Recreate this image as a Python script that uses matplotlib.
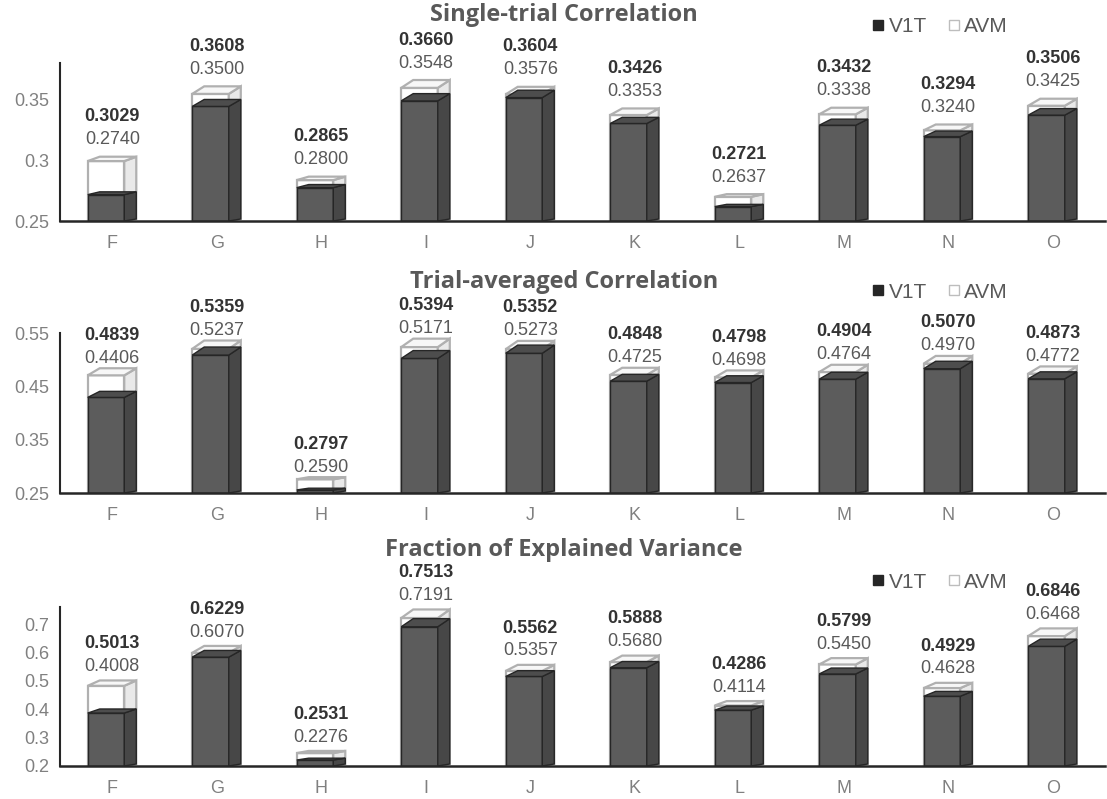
import numpy as np
import matplotlib
matplotlib.use("Agg")
import matplotlib.pyplot as plt
from matplotlib.patches import Polygon
from matplotlib.lines import Line2D

categories = ["F", "G", "H", "I", "J", "K", "L", "M", "N", "O"]

# Single-trial Correlation
single_avm = [0.3029, 0.3608, 0.2865, 0.3660, 0.3604, 0.3426, 0.2721, 0.3432, 0.3294, 0.3506]
single_v1t = [0.2740, 0.3500, 0.2800, 0.3548, 0.3576, 0.3353, 0.2637, 0.3338, 0.3240, 0.3425]

# Trial-averaged Correlation
avg_avm = [0.4839, 0.5359, 0.2797, 0.5394, 0.5352, 0.4848, 0.4798, 0.4904, 0.5070, 0.4873]
avg_v1t = [0.4406, 0.5237, 0.2590, 0.5171, 0.5273, 0.4725, 0.4698, 0.4764, 0.4970, 0.4772]

# Fraction of Explained Variance
fev_avm = [0.5013, 0.6229, 0.2531, 0.7513, 0.5562, 0.5888, 0.4286, 0.5799, 0.4929, 0.6846]
fev_v1t = [0.4008, 0.6070, 0.2276, 0.7191, 0.5357, 0.5680, 0.4114, 0.5450, 0.4628, 0.6468]

titles = ["Single-trial Correlation", "Trial-averaged Correlation", "Fraction of Explained Variance"]
ylims = [(0.25, 0.38), (0.25, 0.55), (0.2, 0.76)]
yticks = [[0.25, 0.3, 0.35], [0.25, 0.35, 0.45, 0.55], [0.2, 0.3, 0.4, 0.5, 0.6, 0.7]]
ytick_labels = [["0.25", "0.3", "0.35"], ["0.25", "0.35", "0.45", "0.55"],
                ["0.2", "0.3", "0.4", "0.5", "0.6", "0.7"]]

W, H = 1107, 799
# axes boxes in pixels: (bottom_px, top_px)
boxes = [(221, 63), (493, 333), (766, 607)]
title_base = [21, 288, 556]
legend_y = [27, 292, 582]
# label offsets above the bar top, in points (V1T, AVM)
label_off = [(12.2, 28.8), (7.2, 23.8), (10.0, 26.5)]

FRONT_W = 0.35
DX = 0.115      # depth in x (data units)

plt.rcParams["font.family"] = ["Liberation Sans", "DejaVu Sans"]

fig = plt.figure(figsize=(W / 100, H / 100), dpi=100)


def draw_box(ax, c, base, top, ppu, front, side, topc, edge, lw, z):
    # ppu: pixels per data unit on y
    h_px = (top - base) * ppu
    dyt = max(1.5, 1.5 + 0.045 * h_px) / ppu
    dyb = 2.0 / ppu
    x0 = c - 0.235
    x1 = x0 + FRONT_W
    ft = top - dyt
    ax.bar(x0, ft - base, width=FRONT_W, bottom=base, align="edge",
           color=front, edgecolor=edge, linewidth=lw, zorder=z)
    ax.add_patch(Polygon([(x1, base), (x1 + DX, base + dyb), (x1 + DX, top), (x1, ft)],
                         closed=True, facecolor=side, edgecolor=edge, linewidth=lw, zorder=z))
    ax.add_patch(Polygon([(x0, ft), (x1, ft), (x1 + DX, top), (x0 + DX, top)],
                         closed=True, facecolor=topc, edgecolor=edge, linewidth=lw, zorder=z))


panels = [(single_avm, single_v1t), (avg_avm, avg_v1t), (fev_avm, fev_v1t)]

for i, (avm, v1t) in enumerate(panels):
    bot, top = boxes[i]
    ax = fig.add_axes([60 / W, 1 - bot / H, (1105 - 60) / W, (bot - top) / H])
    ymin, ymax = ylims[i]
    ax.set_ylim(ymin, ymax)
    ax.set_xlim(-0.5, len(categories) - 0.5)
    ppu = (bot - top) / (ymax - ymin)
    x = np.arange(len(categories))

    for c, a, v in zip(x, avm, v1t):
        draw_box(ax, c, ymin, a, ppu, "white", "#e9e9e9", "#f7f7f7", "#b0b0b0", 1.6, 2)
        draw_box(ax, c, ymin, v, ppu, "#5c5c5c", "#474747", "#4d4d4d", "#262626", 1.0, 3)
        ax.annotate(f"{a:.4f}", (c, a), xytext=(0, label_off[i][1]), textcoords="offset points",
                    ha="center", va="center", fontsize=13, fontweight="bold", color="#333333")
        ax.annotate(f"{v:.4f}", (c, a), xytext=(0, label_off[i][0]), textcoords="offset points",
                    ha="center", va="center", fontsize=13, color="#595959")

    ax.set_xticks(x)
    ax.set_xticklabels(categories, fontsize=13, color="#808080")
    ax.set_yticks(yticks[i])
    ax.set_yticklabels(ytick_labels[i], fontsize=13, color="#808080")
    ax.tick_params(length=0, pad=8)
    ax.tick_params(axis="x", pad=10)
    for s in ["top", "right"]:
        ax.spines[s].set_visible(False)
    ax.spines["left"].set_color("#262626")
    ax.spines["bottom"].set_color("#262626")
    ax.spines["left"].set_linewidth(1.5)
    ax.spines["bottom"].set_linewidth(1.8)
    ax.spines["left"].set_zorder(5)
    ax.spines["bottom"].set_zorder(5)

    fig.text(564 / W, 1 - title_base[i] / H, titles[i], ha="center", va="baseline",
             fontsize=17, fontweight="bold", color="#595959",
             family=["Open Sans", "DejaVu Sans"])

    handles = [
        Line2D([], [], marker="s", linestyle="none", markersize=7,
               markerfacecolor="#262626", markeredgecolor="#262626"),
        Line2D([], [], marker="s", linestyle="none", markersize=7,
               markerfacecolor="white", markeredgecolor="#bdbdbd"),
    ]
    fig.legend(handles, ["V1T", "AVM"], loc="center", ncol=2, frameon=False,
               bbox_to_anchor=(940 / W, 1 - legend_y[i] / H),
               bbox_transform=fig.transFigure, fontsize=15, labelcolor="#595959",
               handlelength=0.6, handletextpad=0.2, columnspacing=1.0)

fig.savefig("out.png", dpi=100)
